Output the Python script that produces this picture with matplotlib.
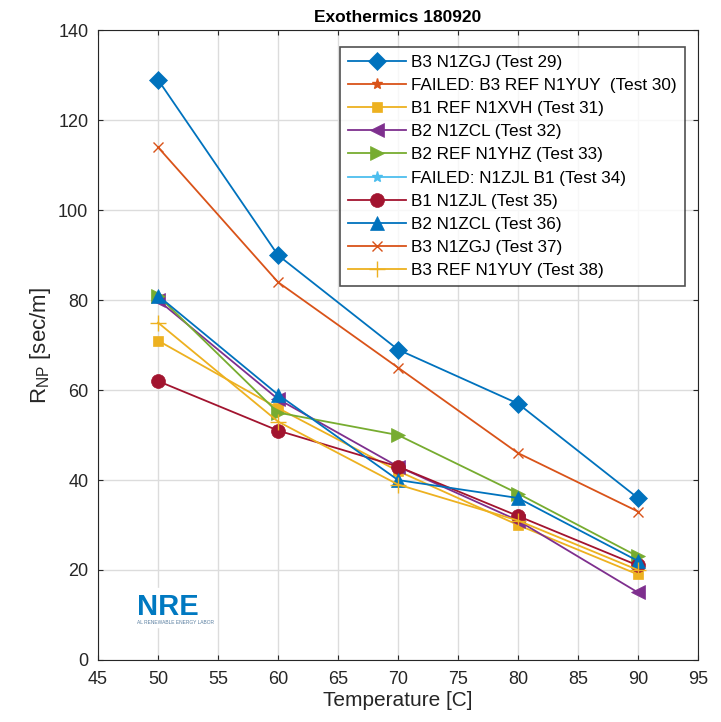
import numpy as np
import matplotlib.pyplot as plt

plt.rcParams['font.family'] = ['Liberation Sans', 'DejaVu Sans']

temps = [50, 60, 70, 80, 90]

labels = [
    "B3 N1ZGJ (Test 29)",
    "FAILED: B3 REF N1YUY  (Test 30)",
    "B1 REF N1XVH (Test 31)",
    "B2 N1ZCL (Test 32)",
    "B2 REF N1YHZ (Test 33)",
    "FAILED: N1ZJL B1 (Test 34)",
    "B1 N1ZJL (Test 35)",
    "B2 N1ZCL (Test 36)",
    "B3 N1ZGJ (Test 37)",
    "B3 REF N1YUY (Test 38)",
]

nan = np.nan
test29 = [129, 90, 69, 57, 36]
test30 = [nan, nan, nan, nan, nan]
test31 = [71, 56, 42, 30, 19]
test32 = [80, 58, 43, 31, 15]
test33 = [81, 55, 50, 37, 23]
test34 = [nan, nan, nan, nan, nan]
test35 = [62, 51, 43, 32, 21]
test36 = [81, 59, 40, 36, 22]
test37 = [114, 84, 65, 46, 33]
test38 = [75, 53, 39, 31, 20]

series = [test29, test30, test31, test32, test33, test34, test35, test36, test37, test38]
markers = ['D', '*', 's', '<', '>', '*', 'o', '^', 'x', '+']
colors = ['#0072BD', '#D95319', '#EDB120', '#7E2F8E', '#77AC30',
          '#4DBEEE', '#A2142F', '#0072BD', '#D95319', '#EDB120']
msizes = [9, 8, 7, 10, 10, 8, 10, 10, 7, 11]

fig = plt.figure(figsize=(7.21, 7.22), dpi=100)
ax = fig.add_axes([0.136, 0.086, 0.832, 0.872])

for vals, lab, m, c, ms in zip(series, labels, markers, colors, msizes):
    ax.plot(temps, vals, marker=m, color=c, markersize=ms, linewidth=1.3,
            markeredgewidth=1.0 if m in ('x', '+', '*') else 0.5,
            label=lab)

ax.set_xlim(45, 95)
ax.set_ylim(0, 140)
ax.set_xticks(np.arange(45, 96, 5))
ax.set_yticks(np.arange(0, 141, 20))
ax.grid(True, color='#dcdcdc', linewidth=1)
ax.set_axisbelow(True)
ax.tick_params(direction='in', top=True, right=True, labelsize=13, colors='#262626')
ax.tick_params(axis='x', pad=8)
ax.tick_params(axis='y', pad=7)
for s in ax.spines.values():
    s.set_color('#262626')

ax.set_title("Exothermics 180920", fontsize=12.5, fontweight='bold')
ax.set_xlabel("Temperature [C]", fontsize=15, color='#262626', labelpad=2)
ax.set_ylabel(r"R$_{\mathregular{NP}}$ [sec/m]", fontsize=16, color='#262626')

leg = ax.legend(loc='upper right', fontsize=12.3, frameon=True, fancybox=False,
                edgecolor='#262626', borderaxespad=0.6, handlelength=3.4,
                labelspacing=0.48, borderpad=0.45, handletextpad=0.3,
                bbox_to_anchor=(0.995, 0.99))
leg.get_frame().set_linewidth(1.2)

# logo watermark
fig.text(0.19, 0.148, "NRE", color='#0079C1', fontsize=21, fontweight='bold',
         va='baseline', backgroundcolor='white')
fig.text(0.19, 0.141, "AL RENEWABLE ENERGY LABOR", color='#5a7fa0', fontsize=3.5,
         va='top')

fig.savefig("out.png", dpi=100)
